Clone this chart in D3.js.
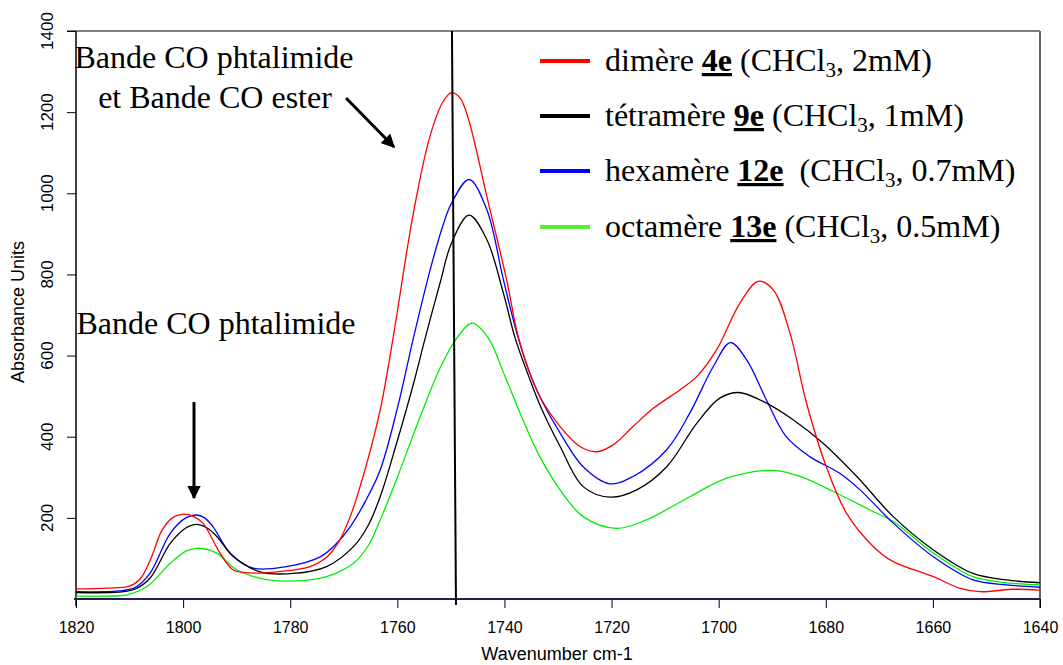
<!DOCTYPE html>
<html lang="fr">
<head>
<meta charset="UTF-8">
<title>Absorbance IR - bandes CO</title>
<script src="https://d3js.org/d3.v7.min.js"></script>
<style>
  body { margin: 0; background: #fff; }
  .tick-label { font-family: "Liberation Sans", Arial, sans-serif; fill: #000; }
  .serif { font-family: "Liberation Serif", "Times New Roman", serif; fill: #000; }
</style>
</head>
<body>
<svg id="chart" width="1063" height="665"></svg>
<script>
// spectres [nombre d'onde, absorbance]
const dimere = [[1820,25],[1814,27],[1810,32],[1808,50],[1806,100],[1804,168],[1802,200],[1799.6,209],[1798,203],[1796.3,187],[1793.1,113],[1790.7,72],[1788.4,65],[1782.5,67],[1776.3,80],[1773.1,104],[1771,140],[1768.8,203],[1766,320],[1763.2,466],[1760.8,643],[1757,952],[1753.9,1141],[1751.5,1225],[1749.9,1248],[1748.3,1235],[1746.7,1182],[1743.3,993],[1739.6,787],[1737.5,650],[1735.5,565],[1733.4,499],[1729.6,425],[1725.9,376],[1722.8,363],[1719.7,380],[1716,425],[1712.2,470],[1707.2,516],[1704.1,548],[1700.4,614],[1696,730],[1692.6,783],[1689.8,762],[1686.7,656],[1683.6,483],[1679.9,326],[1676.1,211],[1671.1,129],[1667.4,92],[1659.9,55],[1654.9,26],[1651.2,18],[1645,24],[1640,22]];
const tetramere = [[1820,16],[1812,17],[1809,24],[1806.2,51],[1802.4,137],[1799.5,175],[1797.5,184],[1795.5,175],[1793.7,154],[1790.6,104],[1785.6,67],[1779.4,63],[1773.2,80],[1768.2,129],[1765.5,180],[1763.2,252],[1760,390],[1757,530],[1754.8,643],[1752,780],[1749.9,877],[1746.6,946],[1743.3,886],[1740.2,754],[1738,643],[1735.5,550],[1733.4,479],[1729.6,376],[1725.3,277],[1720.3,251],[1715.3,269],[1709.7,326],[1704.1,433],[1699.8,495],[1696.3,509],[1692.3,491],[1686.1,442],[1680.5,384],[1674.2,302],[1667.4,203],[1659.9,121],[1652.5,63],[1646.2,47],[1640,40]];
const hexamere = [[1820,18],[1812,20],[1809,28],[1806.2,63],[1802.4,162],[1799.5,200],[1797.5,207],[1796,200],[1794.4,178],[1791.2,113],[1786.9,76],[1780.7,80],[1774.4,104],[1771.5,135],[1768.8,178],[1766,240],[1763.2,318],[1760,470],[1757,643],[1753.9,810],[1751.5,920],[1749.9,975],[1746.6,1034],[1743.3,960],[1740.2,787],[1737.7,656],[1735.5,565],[1733.4,499],[1729.6,409],[1725.3,326],[1720.3,284],[1716,302],[1709.7,368],[1705.4,458],[1701,573],[1697.8,632],[1694.8,590],[1691.1,491],[1687.4,400],[1683,351],[1677.4,310],[1673.6,269],[1667.4,187],[1659.9,104],[1652.5,47],[1646.2,35],[1640,29]];
const octamere = [[1820,7],[1812,8],[1810.5,10],[1806.8,30],[1802.4,88],[1799.5,118],[1797.5,125],[1795.5,122],[1793.7,113],[1790,72],[1785.6,51],[1779.4,44],[1773.2,55],[1768.2,88],[1765.5,130],[1763.2,195],[1760,300],[1756,440],[1752,570],[1748.9,643],[1746,680],[1743,643],[1740,552],[1736.5,440],[1733.4,351],[1729.6,269],[1725.3,203],[1719.1,174],[1713.5,195],[1705.4,252],[1698.5,298],[1689.8,317],[1684.8,302],[1678.6,265],[1671.1,215],[1667.4,191],[1659.9,113],[1652.5,55],[1646.2,40],[1640,35]];

const xTicks = [1820,1800,1780,1760,1740,1720,1700,1680,1660,1640];
const yTicks = [200,400,600,800,1000,1200,1400];

// trait vertical (légèrement incliné) vers 1750 cm-1
const markerTop = 1749.8, markerBottom = 1749.05;

const series = [
  { name: "dimère ", code: "4e", conc: ", 2mM)", pad: " ", data: dimere, color: "#ff0000", legend: "#ff0000" },
  { name: "tétramère ", code: "9e", conc: ", 1mM)", pad: " ", data: tetramere, color: "#000000", legend: "#000000" },
  { name: "hexamère ", code: "12e", conc: ", 0.7mM)", pad: "\u00a0 ", data: hexamere, color: "#0000ff", legend: "#0000ff" },
  { name: "octamère ", code: "13e", conc: ", 0.5mM)", pad: " ", data: octamere, color: "#00ee00", legend: "#55ee33" }
];

const svg = d3.select("#chart");

const x = d3.scaleLinear().domain([1820, 1640]).range([76, 1040]);
const y = d3.scaleLinear().domain([0, 1400]).range([599, 31]);

// cadre haut et droit
svg.append("line").attr("x1", 67).attr("x2", x(1640)).attr("y1", y(1400)).attr("y2", y(1400))
  .attr("stroke", "#555").attr("stroke-width", 1.5);
svg.append("line").attr("x1", x(1640)).attr("x2", x(1640)).attr("y1", y(1400)).attr("y2", 608)
  .attr("stroke", "#666").attr("stroke-width", 2);

// axe y
const gy = svg.append("g").attr("transform", `translate(${x(1820)},0)`)
  .call(d3.axisLeft(y).tickValues(yTicks).tickSize(9).tickFormat(""));
gy.select(".domain").remove();
gy.selectAll(".tick line").attr("stroke", "#000");
svg.append("line").attr("x1", x(1820)).attr("x2", x(1820)).attr("y1", y(1400)).attr("y2", 606)
  .attr("stroke", "#000").attr("stroke-width", 1.5);
svg.selectAll("text.ylab").data(yTicks).join("text")
  .attr("class", "tick-label ylab")
  .attr("transform", d => `translate(47,${y(d)}) rotate(-90)`)
  .attr("text-anchor", "middle").attr("dy", "0.35em")
  .attr("font-size", 17).text(d => d);

// axe x
const gx = svg.append("g").attr("transform", `translate(0,${y(0)})`)
  .call(d3.axisBottom(x).tickValues(xTicks).tickSize(9).tickPadding(14).tickFormat(d3.format("d")));
gx.select(".domain").remove();
gx.selectAll(".tick line").attr("stroke", "#000");
gx.selectAll(".tick text").attr("class", "tick-label").attr("font-size", 16).attr("fill", "#000");

// courbes
const line = d3.line().x(d => x(d[0])).y(d => y(d[1])).curve(d3.curveCatmullRom.alpha(0.5));
svg.append("g").selectAll("path").data(series.slice().reverse()).join("path")
  .attr("d", d => line(d.data))
  .attr("fill", "none")
  .attr("stroke", d => d.color)
  .attr("stroke-width", 1.3);

// ligne de base (axe x)
svg.append("line").attr("x1", x(1820) - 2).attr("x2", x(1640)).attr("y1", y(0)).attr("y2", y(0))
  .attr("stroke", "#2a1a5a").attr("stroke-width", 2.2);

// trait vertical
svg.append("line")
  .attr("x1", x(markerTop)).attr("y1", y(1400))
  .attr("x2", x(markerBottom)).attr("y2", 605)
  .attr("stroke", "#000").attr("stroke-width", 2);

// titres d'axes
svg.append("text").attr("class", "tick-label")
  .attr("x", 557).attr("y", 660).attr("text-anchor", "middle").attr("font-size", 18)
  .text("Wavenumber cm-1");
svg.append("text").attr("class", "tick-label")
  .attr("transform", "translate(18,312) rotate(-90)").attr("text-anchor", "middle")
  .attr("dy", "0.35em").attr("font-size", 18)
  .text("Absorbance Units");

// annotations
const ann = svg.append("g").attr("class", "serif").attr("font-size", 32);
ann.append("text").attr("x", 214).attr("y", 68).attr("text-anchor", "middle").text("Bande CO phtalimide");
ann.append("text").attr("x", 215).attr("y", 108).attr("text-anchor", "middle").text("et Bande CO ester");
ann.append("text").attr("x", 216).attr("y", 334).attr("text-anchor", "middle").text("Bande CO phtalimide");

const defs = svg.append("defs");
defs.append("marker").attr("id", "head").attr("viewBox", "0 0 10 10")
  .attr("refX", 9).attr("refY", 5).attr("markerWidth", 4.5).attr("markerHeight", 4.5)
  .attr("markerUnits", "strokeWidth").attr("orient", "auto")
  .append("path").attr("d", "M0,0 L10,5 L0,10 z").attr("fill", "#000");

svg.append("line").attr("x1", 194).attr("y1", 402).attr("x2", 194).attr("y2", 498)
  .attr("stroke", "#000").attr("stroke-width", 3).attr("marker-end", "url(#head)");
svg.append("line").attr("x1", 346).attr("y1", 98).attr("x2", 394).attr("y2", 147)
  .attr("stroke", "#000").attr("stroke-width", 3).attr("marker-end", "url(#head)");

// légende
const legY = [61, 116, 171, 227];
const leg = svg.append("g");
series.forEach((s, i) => {
  leg.append("line").attr("x1", 540).attr("x2", 590).attr("y1", legY[i]).attr("y2", legY[i])
    .attr("stroke", s.legend).attr("stroke-width", 4);
  const t = leg.append("text").attr("class", "serif").attr("x", 605).attr("y", legY[i] + 10)
    .attr("font-size", 32).attr("xml:space", "preserve");
  t.append("tspan").text(s.name);
  t.append("tspan").attr("font-weight", "bold").attr("text-decoration", "underline").text(s.code);
  t.append("tspan").text(s.pad + "(CHCl");
  t.append("tspan").attr("font-size", 21).attr("dy", 6).text("3");
  t.append("tspan").attr("dy", -6).text(s.conc);
});
</script>
</body>
</html>
